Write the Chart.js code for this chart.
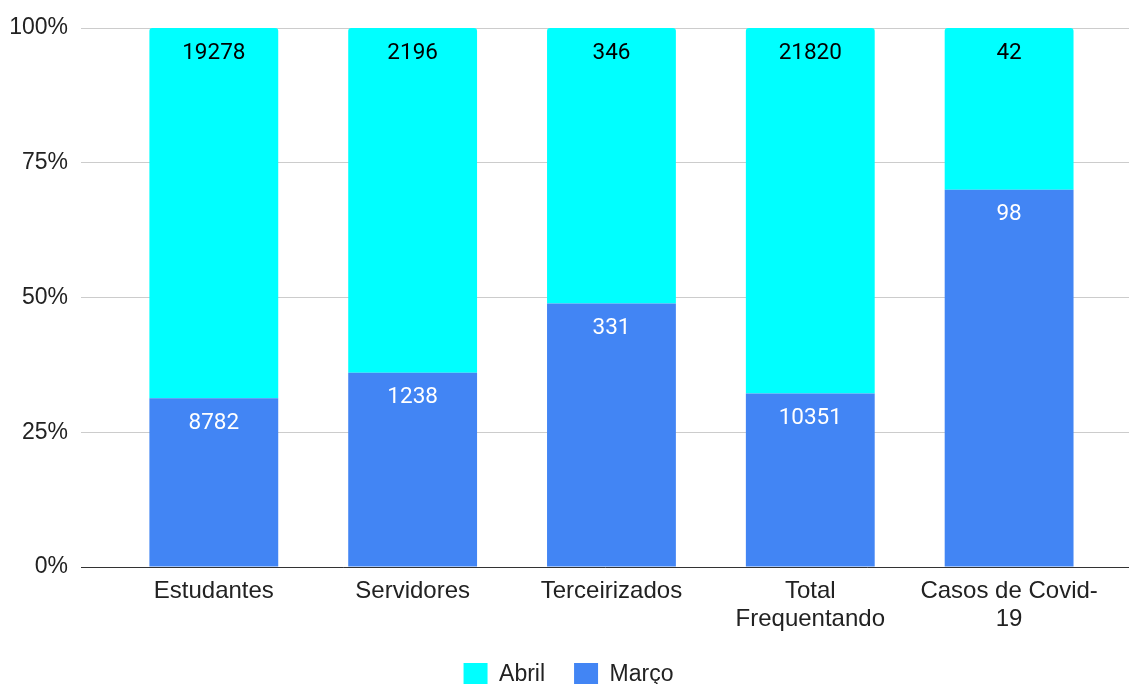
<!DOCTYPE html>
<html>
<head>
<meta charset="utf-8">
<script src="https://cdn.jsdelivr.net/npm/chart.js@4"></script>
<style>
html,body{margin:0;padding:0;background:#fff;}
#wrap{width:1129px;height:684px;position:relative;}
</style>
</head>
<body>
<div id="wrap"><canvas id="c" width="1129" height="684"></canvas></div>
<script>
const categories = [["Estudantes"], ["Servidores"], ["Terceirizados"], ["Total", "Frequentando"], ["Casos de Covid-", "19"]];
const marco = [8782, 1238, 331, 10351, 98];
const abril = [19278, 2196, 346, 21820, 42];
const yTicks = [0, 25, 50, 75, 100];

const totals = marco.map((v, i) => v + abril[i]);
const marcoPct = marco.map((v, i) => ({x: i, y: v / totals[i] * 100}));
const abrilPct = abril.map((v, i) => ({x: i, y: v / totals[i] * 100}));
const rawValues = [marco, abril];
const labelColors = ['#ffffff', '#000000'];

const AXFONT = '"Liberation Sans", Arial, sans-serif';
const LBLFONT = 'Roboto, "Noto Sans", Arial, sans-serif';

const valueLabels = {
  id: 'valueLabels',
  afterDatasetsDraw(chart) {
    const ctx = chart.ctx;
    ctx.save();
    ctx.font = '22.5px ' + LBLFONT;
    ctx.textAlign = 'center';
    ctx.textBaseline = 'middle';
    chart.data.datasets.forEach((ds, di) => {
      const meta = chart.getDatasetMeta(di);
      meta.data.forEach((bar, i) => {
        ctx.fillStyle = labelColors[di];
        ctx.fillText(String(rawValues[di][i]), bar.x, bar.y + 25);
      });
    });
    ctx.restore();
  }
};

new Chart(document.getElementById('c'), {
  type: 'bar',
  data: {
    datasets: [
      {label: 'Março', data: marcoPct, backgroundColor: '#4285F4', borderWidth: 0},
      {label: 'Abril', data: abrilPct, backgroundColor: '#00FFFF', borderWidth: 0,
       borderRadius: {topLeft: 3, topRight: 3, bottomLeft: 0, bottomRight: 0}, borderSkipped: 'bottom'}
    ]
  },
  options: {
    responsive: false,
    animation: false,
    devicePixelRatio: 1,
    barPercentage: 0.648,
    categoryPercentage: 1,
    layout: {padding: {top: 28, right: 0, left: 8, bottom: -13}},
    plugins: {
      legend: {
        position: 'bottom',
        reverse: true,
        labels: {
          boxWidth: 24, boxHeight: 24, padding: 29,
          color: '#222', font: {family: AXFONT, size: 23}
        }
      },
      tooltip: {enabled: false}
    },
    scales: {
      x: {
        type: 'linear',
        stacked: true,
        offset: false,
        bounds: 'data',
        min: -0.668,
        max: 4.603,
        grid: {display: false, drawTicks: false},
        border: {display: true, color: '#333', width: 1},
        afterBuildTicks(s) { s.ticks = categories.map((_, i) => ({value: i})); },
        ticks: {
          autoSkip: false,
          maxRotation: 0,
          minRotation: 0,
          padding: 10,
          color: '#222',
          font: {family: AXFONT, size: 24, lineHeight: 1.1667},
          callback: (v) => categories[Math.round(v)] || ''
        },
        afterFit(s) { s.height = 67; }
      },
      y: {
        stacked: true,
        min: 0, max: 100,
        grid: {color: '#cccccc', drawTicks: false},
        border: {display: false},
        ticks: {
          stepSize: 25,
          padding: 13,
          color: '#222',
          font: {family: AXFONT, size: 23},
          callback: (v) => yTicks.includes(v) ? v + '%' : ''
        },
        afterFit(s) { s.width = 73; }
      }
    }
  },
  plugins: [valueLabels]
});
</script>
</body>
</html>
